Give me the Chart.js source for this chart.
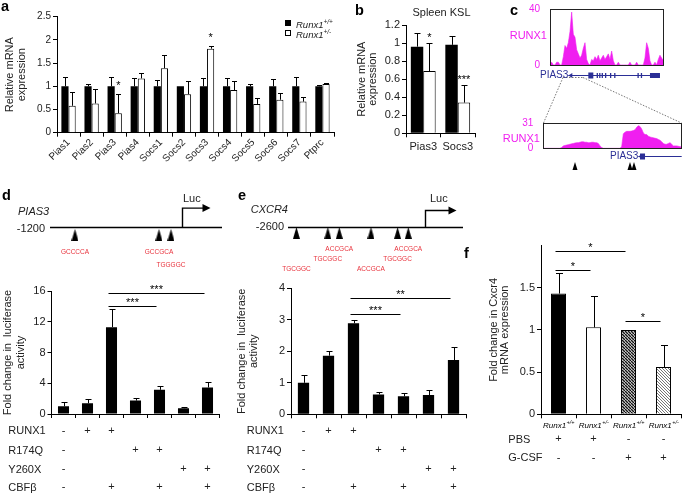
<!DOCTYPE html>
<html>
<head>
<meta charset="utf-8">
<title>Runx1 targets PIAS3, SOCS3, CXCR4</title>
<script src="https://cdn.jsdelivr.net/npm/chart.js@4.4.1/dist/chart.umd.min.js"></script>
<style>
  body { margin: 0; background: #fff; }
  #fig { position: relative; width: 685px; height: 495px; overflow: hidden; font-family: "Liberation Sans", Arial, sans-serif; color: #222; }
  #fig canvas, #fig .t, #fig svg { position: absolute; }
  .t { white-space: nowrap; font-size: 11px; line-height: 1; }
  .lt { font-size: 14.5px; font-weight: bold; color: #000; }
  .it { font-style: italic; }
  .sp { font-size: 6.5px; vertical-align: 3.5px; }
  .mg { color: #f01ef0; }
  .nv { color: #2b2f96; font-size: 10px; }
</style>
</head>
<body>
<div id="fig">
  <canvas id="chA" width="340" height="180" style="left:0;top:0"></canvas>
  <canvas id="chB" width="150" height="180" style="left:330px;top:0"></canvas>
  <canvas id="chC1" width="175" height="90" style="left:510px;top:0"></canvas>
  <canvas id="chC2" width="185" height="75" style="left:500px;top:110px"></canvas>
  <canvas id="chDmap" width="230" height="96" style="left:0;top:187px"></canvas>
  <canvas id="chEmap" width="240" height="96" style="left:230px;top:184.5px"></canvas>
  <canvas id="chD" width="230" height="220" style="left:0;top:275px"></canvas>
  <canvas id="chE" width="240" height="220" style="left:230px;top:275px"></canvas>
  <canvas id="chF" width="225" height="260" style="left:460px;top:235px"></canvas>

  <svg width="685" height="495" style="left:0;top:0;pointer-events:none">
    <g stroke="#555" stroke-width="0.8" stroke-dasharray="1.5 1.5" fill="none">
      <path d="M563 77.5 L583 77.5 M563 77.5 L543.5 123 M583 77.5 L681.5 123"/>
    </g>
  </svg>

  <div class="t lt" style="left:1px;top:-0.6px">a</div>
  <div class="t lt" style="left:355px;top:2.7px">b</div>
  <div class="t lt" style="left:510px;top:2.7px">c</div>
  <div class="t lt" style="left:2px;top:187.7px">d</div>
  <div class="t lt" style="left:238px;top:187.7px">e</div>
  <div class="t lt" style="left:464px;top:245.7px">f</div>

  <div class="t" style="left:285px;top:20px;width:6px;height:6px;background:#000"></div>
  <div class="t" style="left:285px;top:30px;width:4px;height:4px;border:1px solid #000;background:#fff"></div>
  <div class="t it" style="left:296px;top:18.6px;font-size:9.5px">Runx1<span class="sp">+/+</span></div>
  <div class="t it" style="left:296px;top:28.6px;font-size:9.5px">Runx1<span class="sp">+/-</span></div>

  <div class="t" style="left:441.5px;top:7px;transform:translateX(-50%)">Spleen KSL</div>

  <div class="t mg" style="right:138px;top:29.6px">RUNX1</div>
  <div class="t mg" style="right:145px;top:132.9px">RUNX1</div>
  <div class="t nv" style="left:540px;top:70px">PIAS3</div>
  <div class="t nv" style="left:610px;top:151px">PIAS3</div>

  <div class="t it" style="left:18px;top:206px">PIAS3</div>
  <div class="t" style="right:640px;top:222.9px">-1200</div>
  <div class="t" style="left:183px;top:193px">Luc</div>
  <div class="t it" style="left:250.7px;top:203.5px">CXCR4</div>
  <div class="t" style="right:401px;top:220.5px">-2600</div>
  <div class="t" style="left:430px;top:193px">Luc</div>

  <div class="t" style="left:8.3px;top:425.3px">RUNX1</div>
  <div class="t" style="left:8.3px;top:445.3px">R174Q</div>
  <div class="t" style="left:8.3px;top:463.9px">Y260X</div>
  <div class="t" style="left:8.3px;top:481.9px">CBFβ</div>
  <div class="t" style="left:246.7px;top:425.3px">RUNX1</div>
  <div class="t" style="left:246.7px;top:445.3px">R174Q</div>
  <div class="t" style="left:246.7px;top:463.9px">Y260X</div>
  <div class="t" style="left:246.7px;top:481.9px">CBFβ</div>
  <div class="t" style="left:508.3px;top:433.5px">PBS</div>
  <div class="t" style="left:508.3px;top:452.3px">G-CSF</div>
</div>

<script>
// ---- panel a: relative mRNA expression, Runx1+/+ vs Runx1+/-
const aGenes = ['Pias1', 'Pias2', 'Pias3', 'Pias4', 'Socs1', 'Socs2', 'Socs3', 'Socs4', 'Socs5', 'Socs6', 'Socs7', 'Ptprc'];
const aWT = [1, 1, 1, 1, 1, 1, 1, 1, 1, 1, 1, 1];
const aWTErr = [0.2, 0.05, 0.2, 0.17, 0.14, 0, 0.18, 0.18, 0.05, 0.15, 0.19, 0.02];
const aHet = [0.58, 0.63, 0.42, 1.17, 1.39, 0.83, 1.81, 0.92, 0.62, 0.71, 0.67, 1.05];
const aHetErr = [0.29, 0.31, 0.42, 0.11, 0.28, 0.29, 0.06, 0.2, 0.13, 0.15, 0.11, 0.02];
const aHetStars = ['', '', '*', '', '', '', '*', '', '', '', '', ''];
const aTicks = [0, 0.5, 1, 1.5, 2, 2.5];

// ---- panel b: spleen KSL
const bGenes = ['Pias3', 'Socs3'];
const bWT = [0.96, 0.98];
const bWTErr = [0.15, 0.1];
const bHet = [0.69, 0.34];
const bHetErr = [0.31, 0.2];
const bHetStars = ['*', '***'];
const bTicks = [0, 0.2, 0.4, 0.6, 0.8, 1, 1.2];

// ---- panel c: RUNX1 ChIP-seq tracks at PIAS3
const cUpperSignal = [0, 2, 0, 0, 2, 2, 0, 0, 6, 14, 12, 16, 24, 38, 22, 20, 11, 8, 5, 7,
  12, 16, 4, 1, 0, 4, 3, 6, 4, 7, 3, 5, 7, 4, 6, 8, 4, 10, 3, 0,
  0, 2, 0, 0, 0, 0, 0, 0, 2, 0, 0, 0, 2, 0, 0, 0, 0, 5, 16, 12,
  3, 0, 0, 2, 0, 4, 7, 5, 3];
const cUpperTicks = [0, 40];
const cUpperExons = [[23, 26, 6], [28, 28.4, 5], [29.5, 29.9, 5], [31, 31.4, 5], [33, 33.4, 5], [36, 36.4, 5],
  [38.5, 38.9, 5], [52.5, 53, 5], [54.5, 55, 5], [60, 66, 5]];
const cLowerSignal = [0, 0, 0, 0, 0, 0, 0, 0, 0, 0, 0,
  1, 3, 3.5, 4, 4.5, 5, 5.5, 6, 6.5, 7,
  7, 7.5, 8, 8, 7.5, 7.5, 7, 7, 7.5, 7.5,
  7, 7, 6, 3, 1, 0, 0, 0, 0, 0,
  0, 0, 0, 0, 0, 0, 2, 18, 20, 21,
  21, 21, 21.5, 22, 23, 26, 28, 27, 24, 19,
  17, 17, 15, 14, 13.5, 13, 12.5, 12, 11, 10,
  8, 6, 5, 5, 6, 7, 5, 3, 3, 3,
  2.5, 2, 2];
const cLowerTicks = [0, 31];
const cLowerExons = [[58, 61, 6]];
const cLowerSites = [19, 52, 54.4];

// ---- panel d: PIAS3 promoter luciferase
const dSites = [-973, -209, -100];
const dMotifs = ['GCCCCA', 'GCCGCA', 'TGGGGC'];
const dMotifRows = [0, 0, 1];
const dFold = [1.0, 1.4, 11.3, 1.74, 3.15, 0.75, 3.45];
const dErr = [0.5, 0.55, 2.4, 0.3, 0.5, 0.1, 0.75];
const dRunx1 = ['-', '+', '+', '', '', '', ''];
const dR174q = ['-', '', '', '+', '+', '', ''];
const dY260x = ['-', '', '', '', '', '+', '+'];
const dCbfb = ['-', '', '+', '', '+', '', '+'];
const dTicks = [0, 4, 8, 12, 16];
const dSig = [{ from: 2, to: 4, at: 14.1, text: '***' }, { from: 2, to: 6, at: 15.7, text: '***' }];

// ---- panel e: CXCR4 promoter luciferase
const eSites = [-2440, -1844, -1628, -1027, -522, -319];
const eMotifs = ['TGCGGC', 'TGCGGC', 'ACCGCA', 'ACCGCA', 'TGCGGC', 'ACCGCA'];
const eMotifRows = [2, 1, 0, 2, 1, 0];
const eFold = [1.0, 1.86, 2.89, 0.63, 0.57, 0.61, 1.72];
const eErr = [0.24, 0.16, 0.1, 0.08, 0.12, 0.15, 0.41];
const eRunx1 = ['-', '+', '+', '', '', '', ''];
const eR174q = ['-', '', '', '+', '+', '', ''];
const eY260x = ['-', '', '', '', '', '+', '+'];
const eCbfb = ['-', '', '+', '', '+', '', '+'];
const eTicks = [0, 0.5, 1, 1.5, 2, 2.5, 3, 3.5, 4];
const eSig = [{ from: 2, to: 4, at: 3.18, text: '***' }, { from: 2, to: 6, at: 3.68, text: '**' }];

// ---- panel f: Cxcr4 mRNA after PBS / G-CSF
const fGenotypes = ['+/+', '+/-', '+/+', '+/-'];
const fFold = [1.43, 1.03, 1.0, 0.56];
const fErr = [0.24, 0.37, 0, 0.26];
const fPBS = ['+', '+', '-', '-'];
const fGCSF = ['-', '-', '+', '+'];
const fTicks = [0, 0.5, 1, 1.5];
const fSig = [{ from: 0, to: 2, at: 1.93, text: '*' }, { from: 0, to: 1, at: 1.71, text: '*' }, { from: 2, to: 3, at: 1.1, text: '*' }];

const FONT = '"Liberation Sans", Arial, sans-serif';
const MAGENTA = '#f01ef0';
const NAVY = '#2b2f96';

Chart.defaults.font.family = FONT;
Chart.defaults.color = '#222';
Chart.defaults.animation = false;
Chart.defaults.responsive = false;
Chart.defaults.devicePixelRatio = 1;
Chart.defaults.plugins.legend.display = false;
Chart.defaults.plugins.tooltip.enabled = false;

// error bars (one sided), stars over bars, significance brackets, genotype labels
const marks = {
  id: 'marks',
  afterDatasetsDraw(chart, args, o) {
    const { ctx, scales: { x, y } } = chart;
    if (!y) return;
    ctx.save();
    ctx.strokeStyle = '#000';
    ctx.fillStyle = '#000';
    ctx.lineWidth = 1;
    ctx.font = '11px ' + FONT;
    ctx.textAlign = 'center';
    ctx.textBaseline = 'alphabetic';
    (o.errors || []).forEach((errs, di) => {
      const vals = chart.data.datasets[di].data;
      chart.getDatasetMeta(di).data.forEach((bar, i) => {
        if (!errs[i]) return;
        const cx = Math.round(bar.x) + 0.5;
        const top = Math.round(y.getPixelForValue(vals[i] + errs[i])) + 0.5;
        ctx.beginPath();
        ctx.moveTo(cx, bar.y);
        ctx.lineTo(cx, top);
        ctx.moveTo(cx - o.cap, top);
        ctx.lineTo(cx + o.cap, top);
        ctx.stroke();
        const s = o.stars && o.stars[di] ? o.stars[di][i] : '';
        if (s) ctx.fillText(s, bar.x, top - o.starGap);
      });
    });
    (o.brackets || []).forEach(b => {
      const py = Math.round(y.getPixelForValue(b.at)) + 0.5;
      const x1 = x.getPixelForValue(b.from) - 3;
      const x2 = x.getPixelForValue(b.to) - 3;
      ctx.beginPath();
      ctx.moveTo(x1, py);
      ctx.lineTo(x2, py);
      ctx.stroke();
      ctx.fillText(b.text, (x1 + x2) / 2, py - 1);
    });
    if (o.genotypes) {
      ctx.textAlign = 'left';
      ctx.textBaseline = 'middle';
      const gy = chart.chartArea.bottom + o.genotypeGap;
      o.genotypes.forEach((g, i) => {
        ctx.font = 'italic 8px ' + FONT;
        const w1 = ctx.measureText('Runx1').width;
        ctx.font = 'italic 5.5px ' + FONT;
        const w2 = ctx.measureText(g).width;
        const left = x.getPixelForValue(i) - (w1 + w2) / 2;
        ctx.font = 'italic 8px ' + FONT;
        ctx.fillText('Runx1', left, gy);
        ctx.font = 'italic 5.5px ' + FONT;
        ctx.fillText(g, left + w1 + 0.5, gy - 3);
      });
    }
    ctx.restore();
  }
};

// promoter schematic: baseline, TSS arrow, motif names under the sites
const promoter = {
  id: 'promoter',
  afterDraw(chart, args, o) {
    if (!o.motifs) return;
    const { ctx, scales: { x, y } } = chart;
    const base = Math.round(y.getPixelForValue(0) + o.lineOffset) + 0.5;
    const t = Math.round(x.getPixelForValue(0)) + 0.5;
    ctx.save();
    ctx.strokeStyle = '#000';
    ctx.fillStyle = '#000';
    ctx.lineWidth = 1.4;
    ctx.beginPath();
    ctx.moveTo(x.left, base);
    ctx.lineTo(x.right, base);
    ctx.moveTo(t, base);
    ctx.lineTo(t, base - o.rise);
    ctx.lineTo(t + o.arrowLen - 6, base - o.rise);
    ctx.stroke();
    ctx.beginPath();
    ctx.moveTo(t + o.arrowLen, base - o.rise);
    ctx.lineTo(t + o.arrowLen - 8, base - o.rise - 4);
    ctx.lineTo(t + o.arrowLen - 8, base - o.rise + 4);
    ctx.closePath();
    ctx.fill();
    ctx.fillStyle = '#e8323c';
    ctx.font = '6.5px ' + FONT;
    ctx.textAlign = 'center';
    ctx.textBaseline = 'middle';
    chart.getDatasetMeta(0).data.forEach((pt, i) => {
      ctx.fillText(o.motifs[i], pt.x, base + o.rowStart + o.rows[i] * o.rowGap);
    });
    ctx.restore();
  }
};

// ChIP-seq track frame, gene model and RUNX motif marks
const track = {
  id: 'track',
  afterDatasetsDraw(chart, args, o) {
    if (!o.gene) return;
    const { ctx, chartArea: a, scales: { x } } = chart;
    const px = v => x.getPixelForValue(v);
    ctx.save();
    ctx.strokeStyle = '#222';
    ctx.lineWidth = 1;
    ctx.strokeRect(Math.round(a.left) + 0.5, Math.round(a.top) + 0.5, Math.round(a.right - a.left), Math.round(a.bottom - a.top));
    const gy = Math.round(a.bottom + o.geneGap) + 0.5;
    ctx.strokeStyle = NAVY;
    ctx.fillStyle = NAVY;
    ctx.beginPath();
    ctx.moveTo(px(o.gene[0]), gy);
    ctx.lineTo(px(o.gene[1]), gy);
    ctx.stroke();
    ctx.beginPath();
    ctx.moveTo(px(o.gene[0]), gy);
    ctx.lineTo(px(o.gene[0]) + 4, gy - 2.5);
    ctx.lineTo(px(o.gene[0]) + 4, gy + 2.5);
    ctx.closePath();
    ctx.fill();
    o.exons.forEach(e => {
      const x0 = px(e[0]);
      ctx.fillRect(x0, gy - e[2] / 2, Math.max(1.3, px(e[1]) - x0), e[2]);
    });
    ctx.fillStyle = '#000';
    (o.sites || []).forEach(s => {
      const sx = px(s), sy = a.bottom + o.siteGap;
      ctx.beginPath();
      ctx.moveTo(sx, sy - 4);
      ctx.lineTo(sx + 2.5, sy + 4);
      ctx.lineTo(sx - 2.5, sy + 4);
      ctx.closePath();
      ctx.fill();
    });
    ctx.restore();
  }
};

Chart.register(marks, promoter, track);

const setTicks = arr => s => { s.ticks = arr.map(v => ({ value: v })); };

function yAxis(max, ticks, width, title, lh, pad, size) {
  return {
    min: 0,
    max: max,
    afterBuildTicks: setTicks(ticks),
    afterFit: s => { s.width = width; },
    border: { color: '#000' },
    grid: { drawOnChartArea: false, tickLength: 4, color: '#000' },
    ticks: { font: { size: size }, padding: 2, callback: v => String(v) },
    title: { display: true, text: title, color: '#222', font: { size: 11, lineHeight: lh }, padding: { top: pad, bottom: 0 } }
  };
}

function xAxis(height, tickOpts) {
  return {
    afterFit: s => { s.height = height; },
    border: { color: '#000' },
    grid: { drawOnChartArea: false, offset: true, tickLength: 4, color: '#000' },
    ticks: Object.assign({ autoSkip: false, maxRotation: 0, minRotation: 0, color: '#222' }, tickOpts)
  };
}

function hatch(color, gap, width) {
  const c = document.createElement('canvas');
  c.width = c.height = gap;
  const g = c.getContext('2d');
  g.fillStyle = '#fff';
  g.fillRect(0, 0, gap, gap);
  g.strokeStyle = color;
  g.lineWidth = width;
  g.beginPath();
  g.moveTo(-1, -1); g.lineTo(gap + 1, gap + 1);
  g.moveTo(-1, gap - 1); g.lineTo(1, gap + 1);
  g.moveTo(gap - 1, -1); g.lineTo(gap + 1, 1);
  g.stroke();
  return g.createPattern(c, 'repeat');
}

function siteMark(w, h) {
  const c = document.createElement('canvas');
  c.width = w;
  c.height = h;
  const g = c.getContext('2d');
  g.fillStyle = '#000';
  g.beginPath();
  g.moveTo(w / 2, 0);
  g.lineTo(w, h);
  g.lineTo(0, h);
  g.closePath();
  g.fill();
  return c;
}

// a
new Chart('chA', {
  type: 'bar',
  data: {
    labels: aGenes,
    datasets: [
      { data: aWT, backgroundColor: '#000', borderWidth: 0, categoryPercentage: 0.62, barPercentage: 1 },
      { data: aHet, backgroundColor: '#fff', borderColor: '#000', borderWidth: 1, categoryPercentage: 0.62, barPercentage: 1 }
    ]
  },
  options: {
    layout: { padding: { left: 0, right: 6, top: 16.7, bottom: 0 } },
    scales: {
      x: xAxis(47.3, { font: { size: 10 }, padding: 0, maxRotation: 45, minRotation: 45 }),
      y: yAxis(2.5, aTicks, 57, ['Relative mRNA', 'expression'], 1.06, 4.2, 10)
    },
    plugins: { marks: { errors: [aWTErr, aHetErr], cap: 2.5, stars: [null, aHetStars], starGap: 6 } }
  }
});

// b
new Chart('chB', {
  type: 'bar',
  data: {
    labels: bGenes,
    datasets: [
      { data: bWT, backgroundColor: '#000', borderWidth: 0, categoryPercentage: 0.72, barPercentage: 1 },
      { data: bHet, backgroundColor: '#fff', borderColor: '#000', borderWidth: 1, categoryPercentage: 0.72, barPercentage: 1 }
    ]
  },
  options: {
    layout: { padding: { left: 0, right: 5, top: 25, bottom: 0 } },
    scales: {
      x: xAxis(46.7, { font: { size: 11 }, padding: 3 }),
      y: yAxis(1.2, bTicks, 76, ['Relative mRNA', 'expression'], 1.0, 26.2, 11)
    },
    plugins: { marks: { errors: [bWTErr, bHetErr], cap: 3, stars: [null, bHetStars], starGap: 3 } }
  }
});

// c, upper and lower tracks
function trackChart(id, signal, max, ticks, yWidth, padding, trackOpts) {
  return new Chart(id, {
    type: 'line',
    data: {
      labels: signal.map((v, i) => i),
      datasets: [{ data: signal, fill: 'origin', backgroundColor: MAGENTA, borderColor: MAGENTA, borderWidth: 0.6, pointRadius: 0, tension: 0 }]
    },
    options: {
      layout: { padding: padding },
      scales: {
        x: { display: false },
        y: {
          min: 0, max: max,
          afterBuildTicks: setTicks(ticks),
          afterFit: s => { s.width = yWidth; },
          grid: { display: false },
          border: { display: false },
          ticks: { color: MAGENTA, font: { size: 10 }, padding: 2 }
        }
      },
      plugins: { track: trackOpts }
    }
  });
}

trackChart('chC1', cUpperSignal, 40, cUpperTicks, 40, { left: 0, right: 21.7, top: 9.3, bottom: 25 },
  { gene: [11, 66], exons: cUpperExons, geneGap: 10 });
trackChart('chC2', cLowerSignal, 31, cLowerTicks, 43.3, { left: 0, right: 3.3, top: 13.3, bottom: 36.7 },
  { gene: [57, 83], exons: cLowerExons, geneGap: 7.7, sites: cLowerSites, siteGap: 17.7 });

// d, e promoter maps
const tri = siteMark(7, 12);
function promoterMap(id, sites, min, max, padding, opts) {
  return new Chart(id, {
    type: 'scatter',
    data: { datasets: [{ data: sites.map(s => ({ x: s, y: 0 })), pointStyle: tri, pointRadius: 6 }] },
    options: {
      layout: { padding: padding },
      scales: { x: { display: false, min: min, max: max }, y: { display: false, min: -1, max: 1 } },
      plugins: { promoter: opts }
    }
  });
}

promoterMap('chDmap', dSites, -1200, 364, { left: 50, right: 8, top: 0, bottom: 0 },
  { motifs: dMotifs, rows: dMotifRows, lineOffset: -8, rise: 19.4, arrowLen: 28, rowStart: 25, rowGap: 13 });
promoterMap('chEmap', eSites, -2600, 719, { left: 58, right: 2, top: 0, bottom: 0 },
  { motifs: eMotifs, rows: eMotifRows, lineOffset: -6.5, rise: 17, arrowLen: 31, rowStart: 21.7, rowGap: 10 });

// d, e luciferase bars
function lucChart(id, fold, err, rows, max, ticks, yWidth, padding, xHeight, tickPad, titlePad, titleLH, sig, barPct) {
  return new Chart(id, {
    type: 'bar',
    data: {
      labels: rows[0].map((v, i) => rows.map(r => r[i])),
      datasets: [{ data: fold, backgroundColor: '#000', borderWidth: 0, categoryPercentage: 1, barPercentage: barPct }]
    },
    options: {
      layout: { padding: padding },
      scales: {
        x: xAxis(xHeight, { font: { size: 11, lineHeight: 1.718 }, padding: tickPad }),
        y: yAxis(max, ticks, yWidth, ['Fold change in  luciferase', 'activity'], titleLH, titlePad, 11)
      },
      plugins: { marks: { errors: [err], cap: 3, brackets: sig } }
    }
  });
}

lucChart('chD', dFold, dErr, [dRunx1, dR174q, dY260x, dCbfb], 16, dTicks, 51.5,
  { left: 0, right: 10.5, top: 16, bottom: 0 }, 81, 3.25, 1, 1.18, dSig, 0.46);
lucChart('chE', eFold, eErr, [eRunx1, eR174q, eY260x, eCbfb], 4, eTicks, 61,
  { left: 0, right: 4, top: 13.3, bottom: 0 }, 80.7, 3, 5.5, 1.12, eSig, 0.45);

// f
new Chart('chF', {
  type: 'bar',
  data: {
    labels: fPBS.map((p, i) => [p, fGCSF[i]]),
    datasets: [{
      data: fFold,
      backgroundColor: ['#000', '#fff', hatch('#111', 3.4, 1.5), hatch('#777', 3, 1)],
      borderColor: '#000',
      borderWidth: 1,
      categoryPercentage: 1,
      barPercentage: 0.43
    }]
  },
  options: {
    layout: { padding: { left: 0, right: 4, top: 10.5, bottom: 0 } },
    scales: {
      x: xAxis(80.7, { font: { size: 11, lineHeight: 1.7 }, padding: 11.35 }),
      y: yAxis(2, fTicks, 81, ['Fold change in Cxcr4', 'mRNA expression'], 1.03, 28, 11)
    },
    plugins: { marks: { errors: [fErr], cap: 3.5, brackets: fSig, genotypes: fGenotypes, genotypeGap: 11.4 } }
  }
});
</script>
</body>
</html>
